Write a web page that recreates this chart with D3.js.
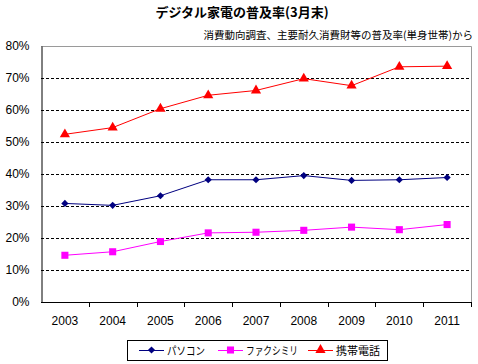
<!DOCTYPE html>
<html>
<head>
<meta charset="utf-8">
<title>デジタル家電の普及率</title>
<script src="https://d3js.org/d3.v7.min.js"></script>
<style>
body { margin: 0; background: #fff; }
text { font-family: "Liberation Sans", Arial, "Noto Sans CJK JP", sans-serif; }
.jp { font-family: "Noto Sans CJK JP", sans-serif; }
</style>
</head>
<body>
<script>

// データ
var years = ["2003","2004","2005","2006","2007","2008","2009","2010","2011"];
var pasokon = [30.8, 30.2, 33.2, 38.2, 38.2, 39.5, 38.0, 38.2, 38.9];
var fax = [14.6, 15.7, 18.9, 21.6, 21.8, 22.4, 23.4, 22.6, 24.2];
var keitai = [52.4, 54.5, 60.4, 64.6, 66.1, 69.8, 67.6, 73.5, 73.7];
var yTicks = [0, 10, 20, 30, 40, 50, 60, 70, 80];
var seriesNames = ["パソコン", "ファクシミリ", "携帯電話"];

var width = 478, height = 364;
var plotLeft = 41, plotRight = 471, plotTop = 46, plotBottom = 302;

var svg = d3.select("body").append("svg")
	.attr("width", width)
	.attr("height", height);

var x = d3.scaleBand().domain(years).range([plotLeft, plotRight]);
var y = d3.scaleLinear().domain([0, 80]).range([plotBottom, plotTop]);

// タイトル
svg.append("text")
	.attr("class", "jp")
	.attr("x", 242).attr("y", 17)
	.attr("text-anchor", "middle")
	.attr("font-size", 13).attr("font-weight", "bold")
	.text("デジタル家電の普及率(3月末)");

svg.append("text")
	.attr("class", "jp")
	.attr("x", 473).attr("y", 39)
	.attr("text-anchor", "end")
	.attr("font-size", 10.5)
	.text("消費動向調査、主要耐久消費財等の普及率(単身世帯)から");

// 枠（上・右はグレー）
svg.append("path")
	.attr("d", "M" + plotLeft + "," + (plotTop + 0.5) + "H" + (plotRight + 0.5) + "V" + plotBottom)
	.attr("fill", "none").attr("stroke", "#9a9a9a");

// グリッド線
svg.selectAll(".grid")
	.data(yTicks.filter(function(d){ return d > 0 && d < 80; }))
	.enter().append("line")
	.attr("x1", plotLeft).attr("x2", plotRight)
	.attr("y1", function(d){ return Math.round(y(d)) + 0.5; })
	.attr("y2", function(d){ return Math.round(y(d)) + 0.5; })
	.attr("stroke", "#000")
	.attr("stroke-dasharray", "3,2");

// Y軸
var yAxis = svg.append("g")
	.attr("transform", "translate(" + (plotLeft + 0.5) + ",0)")
	.call(d3.axisLeft(y).tickValues(yTicks).tickSize(0).tickPadding(12)
		.tickFormat(function(d){ return d + "%"; }));
yAxis.select(".domain").attr("stroke", "#000");
yAxis.selectAll("text").attr("font-size", 12).attr("fill", "#000");

// X軸（目盛りはカテゴリの境目）
svg.append("line")
	.attr("x1", plotLeft).attr("x2", plotRight)
	.attr("y1", plotBottom + 0.5).attr("y2", plotBottom + 0.5)
	.attr("stroke", "#000");
svg.selectAll(".xtick")
	.data(years)
	.enter().append("line")
	.attr("x1", function(d){ return Math.round(x(d) + x.step()) + 0.5; })
	.attr("x2", function(d){ return Math.round(x(d) + x.step()) + 0.5; })
	.attr("y1", plotBottom).attr("y2", plotBottom + 5)
	.attr("stroke", "#000");
svg.selectAll(".xlabel")
	.data(years)
	.enter().append("text")
	.attr("x", function(d){ return x(d) + x.bandwidth() / 2; })
	.attr("y", 325)
	.attr("text-anchor", "middle")
	.attr("font-size", 12)
	.text(function(d){ return d; });

// 菱形は正方形を45度回転
var series = [
	{name: seriesNames[0], values: pasokon, color: "#000080", shape: d3.symbolSquare, size: 26, rot: 45, textW: 38},
	{name: seriesNames[1], values: fax, color: "#ff00ff", shape: d3.symbolSquare, size: 50, rot: 0, textW: 52},
	{name: seriesNames[2], values: keitai, color: "#ff0000", shape: d3.symbolTriangle, size: 45, rot: 0, textW: 44}
];

var line = d3.line()
	.x(function(d, i){ return x(years[i]) + x.bandwidth() / 2; })
	.y(function(d){ return y(d); });

series.forEach(function(s){
	svg.append("path")
		.attr("d", line(s.values))
		.attr("fill", "none")
		.attr("stroke", s.color)
		.attr("stroke-width", 1);
	svg.selectAll(null)
		.data(s.values)
		.enter().append("path")
		.attr("transform", function(d, i){
			return "translate(" + (x(years[i]) + x.bandwidth() / 2) + "," + y(d) + ") rotate(" + s.rot + ")";
		})
		.attr("d", d3.symbol().type(s.shape).size(s.size))
		.attr("fill", s.color);
});

// 凡例
svg.append("rect")
	.attr("x", 127.5).attr("y", 340.5)
	.attr("width", 260).attr("height", 20)
	.attr("fill", "#fff").attr("stroke", "#000");

var legendX = [139, 218, 308];
var legend = svg.selectAll(".legend")
	.data(series)
	.enter().append("g")
	.attr("transform", function(d, i){ return "translate(" + legendX[i] + ",350)"; });
legend.append("line")
	.attr("x1", 0).attr("x2", 25)
	.attr("y1", 0.5).attr("y2", 0.5)
	.attr("stroke", function(d){ return d.color; });
legend.append("path")
	.attr("transform", function(d){ return "translate(12.5,0) rotate(" + d.rot + ")"; })
	.attr("d", function(d){ return d3.symbol().type(d.shape).size(d.size)(); })
	.attr("fill", function(d){ return d.color; });
legend.append("text")
	.attr("class", "jp")
	.attr("x", 28).attr("y", 5)
	.attr("font-size", 11)
	.attr("textLength", function(d){ return d.textW; })
	.attr("lengthAdjust", "spacingAndGlyphs")
	.text(function(d){ return d.name; });

</script>
</body>
</html>
